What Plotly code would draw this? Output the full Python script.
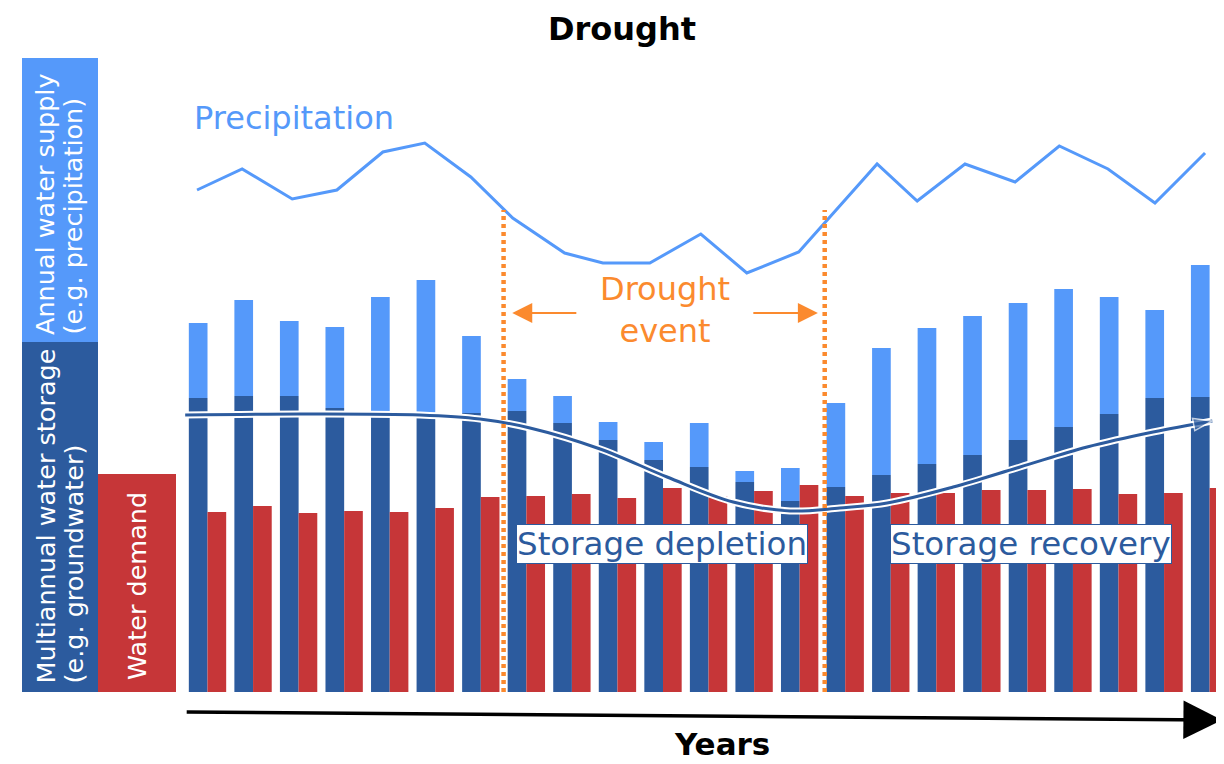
import plotly.graph_objects as go

# ---------------- data (conceptual units) ----------------
years = list(range(1, 24))
storage = [294, 296, 296, 284, 280, 279, 279, 281, 269, 252, 232, 225, 210, 191,
           205, 217, 228, 237, 252, 265, 278, 294, 295]
supply = [75, 96, 75, 81, 115, 133, 77, 32, 27, 18, 18, 44, 11, 33,
          84, 127, 136, 139, 137, 138, 117, 88, 132]
demand = [180, 186, 179, 181, 180, 184, 195, 196, 198, 194, 204, 196, 201, 207,
          196, 199, 199, 202, 202, 203, 198, 199, 204]

precip_x = [0.77, 1.76, 2.86, 3.84, 4.85, 5.77, 6.78, 7.70, 8.84, 9.68, 10.71,
            11.83, 12.84, 13.98, 15.70, 16.58, 17.63, 18.73, 19.70, 20.77, 21.80, 22.90]
precip_y = [502, 523, 493, 502, 540, 549, 515, 474, 439, 429, 429, 458, 419, 440,
            528, 491, 528, 510, 546, 523, 489, 539]

trend_x = [0.51, 3.03, 5.67, 6.98, 8.08, 9.62, 11.09, 12.54, 13.79, 14.88, 15.92,
           17.37, 18.84, 20.31, 21.76, 23.06]
trend_y = [277, 278, 277, 273, 264, 243, 215, 190, 181, 184, 189, 205, 225, 245, 260, 271]

drought_start = 7.5
drought_end = 14.55
drought_top = 482

time_axis_x = [0.51, 23.27]
time_axis_y = [-20, -28]

# ---------------- styling ----------------
LIGHT = "#5599FA"
DARK = "#2C5B9E"
RED = "#C63638"
ORANGE = "#FB8A2E"
FONT = "DejaVu Sans"
OFF = 8                      # page body margin
W, H = 1224 - OFF, 764 - OFF
X0, X1 = -3.380, 23.316
Y0, Y1 = -72, 684


def px(xp):
    return (xp - OFF) / W


def py(yp):
    return 1 - (yp - OFF) / H


fig = go.Figure()

fig.add_trace(go.Bar(x=years, y=storage, marker_color=DARK, marker_line_width=0,
                     width=0.41, offset=-0.41, name="Storage"))
fig.add_trace(go.Bar(x=years, y=supply, base=storage, marker_color=LIGHT,
                     marker_line_width=0, width=0.41, offset=-0.41, name="Supply"))
fig.add_trace(go.Bar(x=years, y=demand, marker_color=RED, marker_line_width=0,
                     width=0.41, offset=0.0, name="Demand"))

# precipitation line
fig.add_trace(go.Scatter(x=precip_x, y=precip_y, mode="lines",
                         line=dict(color=LIGHT, width=3), name="Precipitation"))

# storage trend (white halo + blue line + arrowhead)
fig.add_trace(go.Scatter(x=trend_x, y=trend_y, mode="lines", line_shape="spline",
                         line=dict(color="white", width=7), hoverinfo="skip"))
fig.add_trace(go.Scatter(x=trend_x, y=trend_y, mode="lines", line_shape="spline",
                         line=dict(color=DARK, width=3), hoverinfo="skip"))
fig.add_trace(go.Scatter(x=trend_x[-2:], y=trend_y[-2:], mode="markers",
                         marker=dict(symbol=["circle", "arrow"], size=[0, 20],
                                     angleref="previous", color=DARK,
                                     line=dict(color="white", width=1.5)),
                         hoverinfo="skip"))

shapes = []
# drought boundary dotted lines
for xv in (drought_start, drought_end):
    shapes.append(dict(type="line", xref="x", yref="y", x0=xv, x1=xv, y0=0,
                       y1=drought_top, line=dict(color=ORANGE, width=4.5, dash="4px,4px")))
# legend blocks
shapes += [
    dict(type="rect", xref="paper", yref="paper", x0=px(22), x1=px(98),
         y0=py(342), y1=py(58), fillcolor=LIGHT, line_width=0, layer="below"),
    dict(type="rect", xref="paper", yref="paper", x0=px(22), x1=px(98),
         y0=py(692), y1=py(342), fillcolor=DARK, line_width=0, layer="below"),
    dict(type="rect", xref="paper", yref="paper", x0=px(98), x1=px(176),
         y0=py(692), y1=py(474), fillcolor=RED, line_width=0, layer="below"),
]

ann = []


def block_text(text, xc, ybottom):
    ann.append(dict(text=text, xref="paper", yref="paper", x=px(xc), y=py(ybottom),
                    xanchor="center", yanchor="bottom", textangle=-90, showarrow=False,
                    font=dict(family=FONT, size=25.5, color="white")))


block_text("Annual water supply", 45, 337)
block_text("(e.g. precipitation)", 73, 337)
block_text("Multiannual water storage", 45, 686)
block_text("(e.g. groundwater)", 73, 686)
block_text("Water demand", 137, 682)

ann.append(dict(text="<b>Drought</b>", xref="paper", yref="paper", x=px(622), y=1,
                xanchor="center", yanchor="top", showarrow=False,
                font=dict(family=FONT, size=32, color="black")))
ann.append(dict(text="Precipitation", xref="paper", yref="paper", x=px(294), y=py(118),
                xanchor="center", yanchor="middle", showarrow=False,
                font=dict(family=FONT, size=32, color=LIGHT)))
ann.append(dict(text="Drought<br>event", xref="paper", yref="paper", x=px(665), y=py(310),
                xanchor="center", yanchor="middle", showarrow=False,
                font=dict(family=FONT, size=32, color=ORANGE)))
# drought arrows
ann.append(dict(x=7.69, y=379, ax=9.13, ay=379, xref="x", yref="y", axref="x", ayref="y",
                text="", showarrow=True, arrowhead=2, arrowsize=2.0, arrowwidth=2,
                arrowcolor=ORANGE))
ann.append(dict(x=14.40, y=379, ax=12.95, ay=379, xref="x", yref="y", axref="x", ayref="y",
                text="", showarrow=True, arrowhead=2, arrowsize=2.0, arrowwidth=2,
                arrowcolor=ORANGE))
for txt, xc in (("Storage depletion", 662), ("Storage recovery", 1031)):
    ann.append(dict(text=txt, xref="paper", yref="paper", x=px(xc), y=py(544),
                    xanchor="center", yanchor="middle", showarrow=False,
                    bgcolor="white", bordercolor=DARK, borderwidth=1, borderpad=0,
                    font=dict(family=FONT, size=32.5, color=DARK)))
# time axis arrow
ann.append(dict(x=time_axis_x[1], y=time_axis_y[1], ax=time_axis_x[0], ay=time_axis_y[0],
                xref="x", yref="y", axref="x", ayref="y", text="", showarrow=True,
                arrowhead=2, arrowsize=2.2, arrowwidth=3.5, arrowcolor="black"))
ann.append(dict(text="<b>Years</b>", xref="paper", yref="paper", x=px(722), y=0,
                xanchor="center", yanchor="bottom", showarrow=False,
                font=dict(family=FONT, size=31, color="black")))

fig.update_layout(
    width=W, height=H, margin=dict(l=0, r=0, t=0, b=0),
    paper_bgcolor="white", plot_bgcolor="white", showlegend=False,
    barmode="overlay", shapes=shapes, annotations=ann,
    xaxis=dict(range=[X0, X1], visible=False, fixedrange=True),
    yaxis=dict(range=[Y0, Y1], visible=False, fixedrange=True),
    font=dict(family=FONT),
)

fig.write_html("out.html", config={"displayModeBar": False})
